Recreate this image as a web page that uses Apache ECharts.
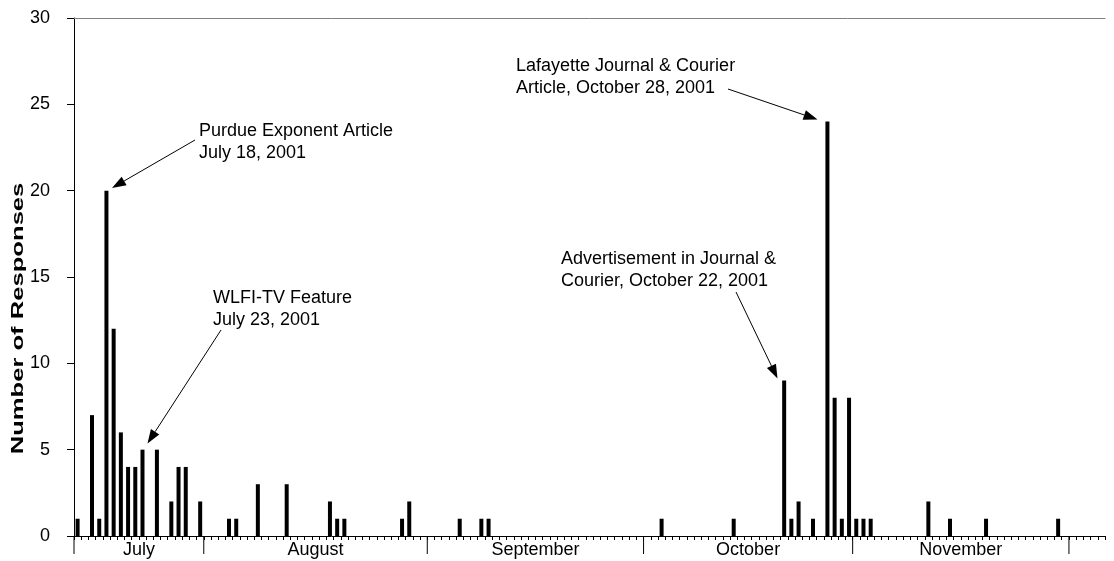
<!DOCTYPE html>
<html>
<head>
<meta charset="utf-8">
<script src="https://cdn.jsdelivr.net/npm/echarts@6/dist/echarts.min.js"></script>
<style>
  html, body { margin: 0; padding: 0; background: #fff; }
  #chart { width: 1114px; height: 561px; }
</style>
</head>
<body>
<div id="chart"></div>
<script>
// one category per day, Jul 14 - Dec 5 2001 (two October days are absent in the source)
const monthNames = ['July', 'August', 'September', 'October', 'November'];
const monthNums = [7, 8, 9, 10, 11, 12];
const monthFirstDay = [14, 1, 1, 1, 1, 1];
const monthLastDay = [31, 31, 30, 31, 30, 5];
const skippedDays = ['10/6', '10/7'];

const responseDates = [
  '7/14', '7/16', '7/17', '7/18', '7/19', '7/20', '7/21', '7/22', '7/23', '7/25', '7/27', '7/28', '7/29', '7/31',
  '8/4', '8/5', '8/8', '8/12', '8/18', '8/19', '8/20', '8/28', '8/29',
  '9/5', '9/8', '9/9',
  '10/3', '10/15', '10/22', '10/23', '10/24', '10/26', '10/28', '10/29', '10/30', '10/31',
  '11/1', '11/2', '11/3', '11/11', '11/14', '11/19', '11/29'
];
const responseCounts = [
  1, 7, 1, 20, 12, 6, 4, 4, 5, 5, 2, 4, 4, 2,
  1, 1, 3, 3, 2, 1, 1, 1, 2,
  1, 1, 1,
  1, 1, 9, 1, 2, 1, 24, 8, 1, 8,
  1, 1, 1, 2, 1, 1, 1
];

const yTicks = [0, 5, 10, 15, 20, 25, 30];

const days = [];
monthNums.forEach(function (m, i) {
  for (let d = monthFirstDay[i]; d <= monthLastDay[i]; d++) {
    const key = m + '/' + d;
    if (skippedDays.indexOf(key) < 0) days.push(key);
  }
});
const monthStart = monthNums.map(function (m, i) { return days.indexOf(m + '/' + monthFirstDay[i]); });
const barData = days.map(function (d) {
  const k = responseDates.indexOf(d);
  return k < 0 ? 0 : responseCounts[k];
});

const FONT = '"Liberation Sans", Arial, sans-serif';

function arrow(x1, y1, x2, y2) {
  const ang = Math.atan2(y2 - y1, x2 - x1);
  const L = 14, W = 5;
  const bx = x2 - L * Math.cos(ang), by = y2 - L * Math.sin(ang);
  const nx = -Math.sin(ang) * W, ny = Math.cos(ang) * W;
  return [
    { type: 'line', silent: true, shape: { x1: x1, y1: y1, x2: bx, y2: by }, style: { stroke: '#000', lineWidth: 1 } },
    { type: 'polygon', silent: true, shape: { points: [[x2, y2], [bx + nx, by + ny], [bx - nx, by - ny]] }, style: { fill: '#000' } }
  ];
}
function note(x, y, text) {
  return { type: 'text', silent: true, x: x, y: y,
    style: { text: text, fontSize: 18, fontFamily: FONT, lineHeight: 22, fill: '#000', verticalAlign: 'top' } };
}

const chart = echarts.init(document.getElementById('chart'));
chart.setOption({
  animation: false,
  grid: { left: 74, right: 9, top: 18, bottom: 25 },
  xAxis: [{
    type: 'category', data: days, boundaryGap: true,
    axisLine: { lineStyle: { color: '#000', width: 1 } },
    axisTick: { show: true, interval: 0, length: 4, lineStyle: { color: '#000' } },
    axisLabel: { show: false }
  }, {
    type: 'category', data: days, position: 'top',
    axisLine: { lineStyle: { color: '#808080', width: 1 } },
    axisTick: { show: false }, axisLabel: { show: false }
  }],
  yAxis: {
    type: 'value', min: 0, max: 30, interval: 5,
    axisLine: { show: true, lineStyle: { color: '#000' } },
    axisTick: { show: true, length: 7, lineStyle: { color: '#000' } },
    splitLine: { show: false },
    axisLabel: { color: '#000', fontSize: 18, fontFamily: FONT, margin: 24,
      formatter: function (v) { return yTicks.indexOf(v) >= 0 ? String(v) : ''; } }
  },
  series: [{
    type: 'bar', data: barData, barWidth: 4, silent: true,
    itemStyle: { color: '#000' }
  }, {
    type: 'custom', silent: true, clip: false,
    data: monthNames.map(function (n, i) { return [monthStart[i], monthStart[i + 1]]; }),
    renderItem: function (params, api) {
      const band = api.size([1, 0])[0];
      const p0 = api.coord([api.value(0), 0]);
      const xs = p0[0] - band / 2;
      const xe = api.coord([api.value(1), 0])[0] - band / 2;
      const y = p0[1];
      const kids = [
        { type: 'line', shape: { x1: xs, y1: y, x2: xs, y2: y + 18 }, style: { stroke: '#000', lineWidth: 1 } },
        { type: 'text', x: (xs + xe) / 2, y: y + 14,
          style: { text: monthNames[params.dataIndex], fontSize: 18, fontFamily: FONT, fill: '#000', align: 'center', verticalAlign: 'middle' } }
      ];
      if (params.dataIndex === monthNames.length - 1) {
        kids.push({ type: 'line', shape: { x1: xe, y1: y, x2: xe, y2: y + 18 }, style: { stroke: '#000', lineWidth: 1 } });
      }
      return { type: 'group', children: kids };
    }
  }],
  graphic: [
    { type: 'text', silent: true, x: 18.5, y: 318.5, rotation: Math.PI / 2, scaleX: 1.6,
      style: { text: 'Number of Responses', fontSize: 16, fontWeight: 'bold', fontFamily: FONT, fill: '#000', align: 'center', verticalAlign: 'middle' } },
    note(199, 120, 'Purdue Exponent Article\nJuly 18, 2001'),
    note(213, 287, 'WLFI-TV Feature\nJuly 23, 2001'),
    note(561, 248, 'Advertisement in Journal &\nCourier, October 22, 2001'),
    note(516, 55, 'Lafayette Journal & Courier\nArticle, October 28, 2001')
  ].concat(
    arrow(195, 140, 112, 188),
    arrow(221, 330, 147.5, 443.5),
    arrow(736, 292, 777.5, 378.5),
    arrow(728, 89, 817.5, 119.5)
  )
});
</script>
</body>
</html>
